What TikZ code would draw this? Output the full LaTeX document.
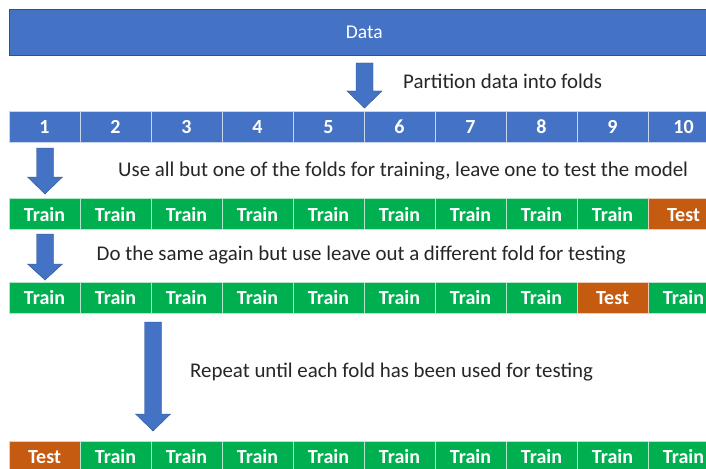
\documentclass[tikz,border=0pt]{standalone}
\usepackage{fontspec}
\setmainfont{Carlito}
\usetikzlibrary{positioning}
\definecolor{foldblue}{HTML}{4472C4}
\definecolor{foldedge}{HTML}{2F528F}
\definecolor{traingreen}{HTML}{00B050}
\definecolor{testorange}{HTML}{C55A11}
\definecolor{notegray}{HTML}{262626}

% block arrow pointing down: centre x, top, start of head, tip
\newcommand{\foldarrow}[4]{%
  \filldraw[fill=foldblue, draw=foldedge, line width=0.4pt]
    (#1-8.5,#2) -- (#1+8.5,#2) -- (#1+8.5,#3) -- (#1+17.5,#3) -- (#1,#4)
    -- (#1-17.5,#3) -- (#1-8.5,#3) -- cycle;}

\begin{document}
\begin{tikzpicture}[
  x=1pt, y=-1pt,
  cell/.style={minimum width=71pt, minimum height=31pt, inner sep=0pt,
    text height=14pt, text depth=0pt,
    text=white, font=\fontsize{20}{22}\selectfont\bfseries},
  fold/.style={cell, fill=foldblue, draw=white!70!foldblue, line width=0.8pt},
  train/.style={cell, fill=traingreen, draw=white!70!traingreen, line width=0.8pt},
  test/.style={cell, fill=testorange, draw=white!70!testorange, line width=0.8pt},
  note/.style={anchor=base west, inner sep=0pt, text=notegray,
    font=\fontsize{20.9}{24}\selectfont}
]
\clip (0,0) rectangle (706,468);
\fill[white] (0,0) rectangle (706,468);

% whole data set
\node[fill=foldblue, draw=foldedge, line width=0.6pt, anchor=north west,
  minimum width=710pt, minimum height=46pt, inner sep=0pt, text=white,
  font=\fontsize{19.5}{22}\selectfont] (data) at (9,9) {Data};

% the ten folds
\foreach \i in {1,...,10}
  \node[fold] (f\i) at (71*\i-26.5,126.5) {\i};

% first split: last fold held out
\foreach \i in {1,...,9}
  \node[train] (a\i) at (71*\i-26.5,214) {Train};
\node[test] (a10) at (683.5,214) {Test};

% second split: fold 9 held out
\foreach \i in {1,...,8,10}
  \node[train] (b\i) at (71*\i-26.5,297.5) {Train};
\node[test] (b9) at (612.5,297.5) {Test};

% final split: first fold held out
\node[test] (c1) at (44.5,456.5) {Test};
\foreach \i in {2,...,10}
  \node[train] (c\i) at (71*\i-26.5,456.5) {Train};

\foldarrow{364.5}{63}{91}{108}
\foldarrow{45}{148}{177}{194}
\foldarrow{45}{234}{264}{280}
\foldarrow{153}{322}{414}{431}

\node[note] (partition) at (403,88.3) {Partition data into folds};
\node[note] (leaveone) at (118,176) {Use all but one of the folds for training, leave one to test the model};
\node[note] (again) at (96.5,260.7) {Do the same again but use leave out a different fold for testing};
\node[note] (repeat) at (190,377) {Repeat until each fold has been used for testing};
\end{tikzpicture}
\end{document}
